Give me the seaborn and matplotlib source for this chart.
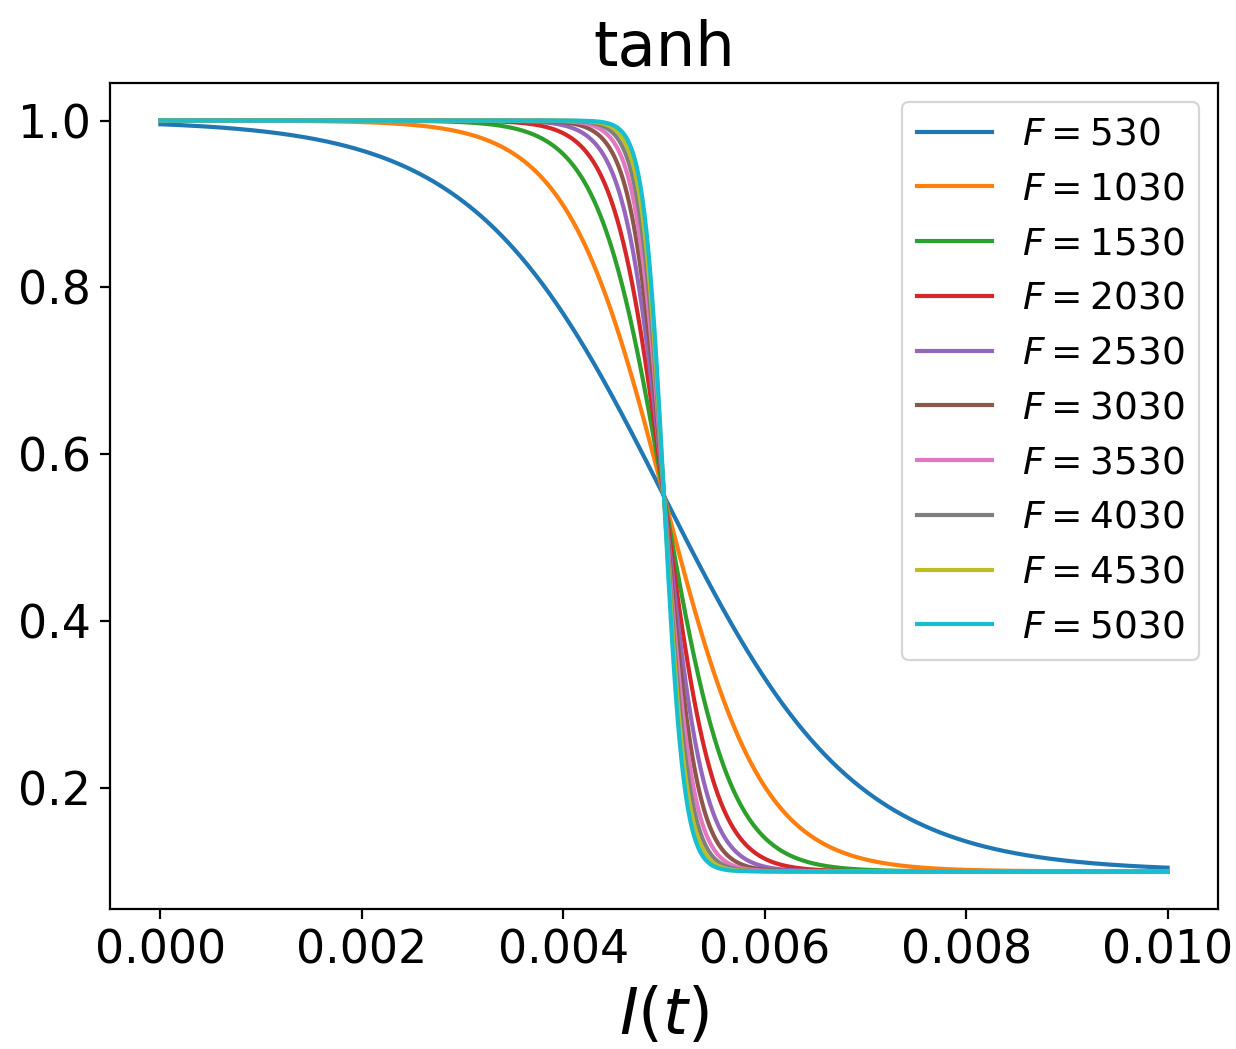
import numpy as np
import pandas as pd
import matplotlib
matplotlib.use("Agg")
import matplotlib.pyplot as plt
import seaborn as sns

# Steepness parameters of the tanh transition
F_values = [530, 1030, 1530, 2030, 2530, 3030, 3530, 4030, 4530, 5030]
# Transition centre and the two plateau levels
x_center = 0.005
y_low = 0.1
y_high = 1.0
x_start, x_end = 0.0, 0.010

x_ticks = [0.000, 0.002, 0.004, 0.006, 0.008, 0.010]
y_ticks = [0.2, 0.4, 0.6, 0.8, 1.0]

x = np.linspace(x_start, x_end, 1000)
frames = []
for F in F_values:
    y = y_low + (y_high - y_low) * (1.0 - np.tanh(F * (x - x_center))) / 2.0
    frames.append(pd.DataFrame({"I": x, "value": y, "F": f"$F = {F}$"}))
df = pd.concat(frames, ignore_index=True)
labels = [f"$F = {F}$" for F in F_values]

plt.rcParams.update({
    "axes.linewidth": 1.6,
    "xtick.major.width": 1.6,
    "ytick.major.width": 1.6,
    "xtick.major.size": 7,
    "ytick.major.size": 7,
    "xtick.major.pad": 7,
    "ytick.major.pad": 7,
})

fig = plt.figure(figsize=(12.36, 10.49), dpi=100)
ax = fig.add_subplot(111)
fig.subplots_adjust(left=0.089, right=0.9854, top=0.9209, bottom=0.1335)

sns.lineplot(data=df, x="I", y="value", hue="F", hue_order=labels,
             palette="tab10", estimator=None, sort=False, linewidth=3, ax=ax)

ax.set_xticks(x_ticks)
ax.set_xticklabels([f"{t:.3f}" for t in x_ticks])
ax.set_yticks(y_ticks)
ax.set_yticklabels([f"{t:.1f}" for t in y_ticks])
ax.tick_params(labelsize=33)
ax.set_title("tanh", fontsize=45, pad=12)
ax.set_xlabel("$I(t)$", fontsize=46, labelpad=8)
ax.set_ylabel("")

leg = ax.legend(loc="upper right", fontsize=27, title=None)
leg.get_frame().set_linewidth(1.6)
for line in leg.get_lines():
    line.set_linewidth(3)

fig.savefig("out.png", dpi=100)
